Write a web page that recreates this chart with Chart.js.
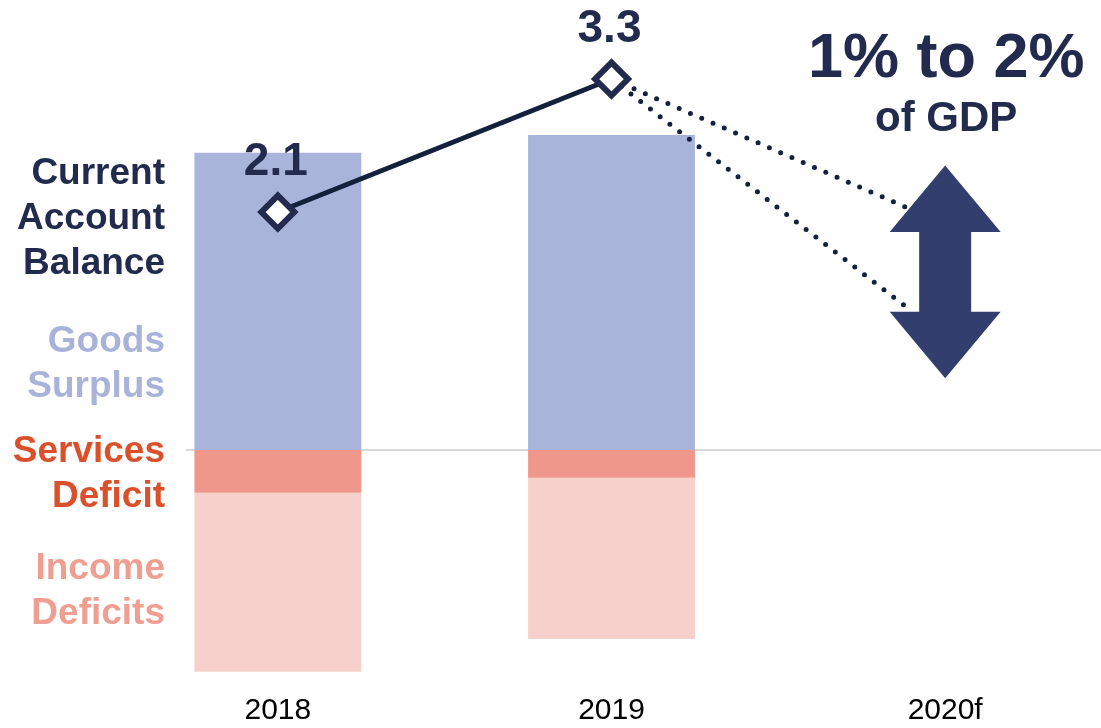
<!DOCTYPE html>
<html><head><meta charset="utf-8">
<script src="https://cdn.jsdelivr.net/npm/chart.js@4/dist/chart.umd.min.js"></script>
<style>
html,body{margin:0;padding:0;overflow:hidden;background:#fff;width:1101px;height:728px}
#wrap{position:absolute;left:0;top:0;width:1112px;height:728px}
</style></head>
<body><div id="wrap"><canvas id="c" width="1112" height="728"></canvas></div>
<script>
// ---- data ----
const categories = ['2018', '2019', '2020f'];
const goodsSurplus = [118, 125, null];        // RM bn
const servicesDeficit = [-17, -11, null];     // RM bn
const incomeDeficits = [-71, -64, null];      // RM bn
const currentAccountPct = [2.1, 3.3, null];   // % of GDP
const forecastX = [1, 1.885];                 // category index (2019 -> towards 2020f)
const forecastUpper = [3.3, 2.14];            // % of GDP
const forecastLower = [3.3, 1.24];            // % of GDP
const arrowTips = [0.6, 2.52];                // % of GDP (bottom tip, top tip)
const arrowHeads = [1.2, 1.92];               // % of GDP (head bases)
const forecastText = ['1% to 2%', 'of GDP'];

const FONT = "'Liberation Sans', Arial, Helvetica, sans-serif";
const NAVY = '#222b4e';
const CA_INDEX = 3;

const sideLabels = [
  {lines: ['Current', 'Account', 'Balance'], color: NAVY, base: 184},
  {lines: ['Goods', 'Surplus'], color: '#a9b3da', base: 352},
  {lines: ['Services', 'Deficit'], color: '#d9502b', base: 462},
  {lines: ['Income', 'Deficits'], color: '#ef9f92', base: 579}
];

const annot = {
  id: 'annot',
  beforeDatasetsDraw(chart) {
    const {ctx, chartArea, scales} = chart;
    const y0 = scales.y.getPixelForValue(0);
    ctx.save();
    ctx.strokeStyle = '#d9d9d9';
    ctx.lineWidth = 2;
    ctx.beginPath();
    ctx.moveTo(chartArea.left, y0);
    ctx.lineTo(chartArea.right, y0);
    ctx.stroke();
    ctx.restore();
  },
  afterDatasetsDraw(chart) {
    const {ctx, scales} = chart;
    const {x, y2} = scales;
    ctx.save();
    // white box behind side labels
    ctx.fillStyle = '#fefefe';
    ctx.fillRect(0, 425, 186, 100);
    // side labels
    ctx.textAlign = 'right';
    ctx.textBaseline = 'alphabetic';
    ctx.font = 'bold 37px ' + FONT;
    sideLabels.forEach(g => {
      ctx.fillStyle = g.color;
      g.lines.forEach((t, i) => ctx.fillText(t, 165, g.base + i * 45));
    });
    // point labels
    const meta = chart.getDatasetMeta(CA_INDEX);
    ctx.textAlign = 'center';
    ctx.fillStyle = NAVY;
    ctx.font = 'bold 46px ' + FONT;
    meta.data.forEach((p, i) => {
      const v = currentAccountPct[i];
      if (v == null) return;
      ctx.fillText(v.toFixed(1), p.x - 2, p.y - 37);
    });
    // arrow
    const cx = x.getPixelForValue(2);
    const top = y2.getPixelForValue(arrowTips[1]);
    const bot = y2.getPixelForValue(arrowTips[0]);
    const hT = y2.getPixelForValue(arrowHeads[1]);
    const hB = y2.getPixelForValue(arrowHeads[0]);
    const hw = 55.5, sw = 26;
    ctx.fillStyle = '#323e6e';
    ctx.beginPath();
    ctx.moveTo(cx, top);
    ctx.lineTo(cx + hw, hT);
    ctx.lineTo(cx + sw, hT);
    ctx.lineTo(cx + sw, hB);
    ctx.lineTo(cx + hw, hB);
    ctx.lineTo(cx, bot);
    ctx.lineTo(cx - hw, hB);
    ctx.lineTo(cx - sw, hB);
    ctx.lineTo(cx - sw, hT);
    ctx.lineTo(cx - hw, hT);
    ctx.closePath();
    ctx.fill();
    // forecast text
    ctx.fillStyle = NAVY;
    ctx.font = 'bold 63px ' + FONT;
    ctx.fillText(forecastText[0], cx + 1, 77);
    ctx.font = 'bold 42px ' + FONT;
    ctx.fillText(forecastText[1], cx + 1, 131);
    ctx.restore();
  }
};

new Chart(document.getElementById('c'), {
  type: 'bar',
  data: {
    labels: categories,
    datasets: [
      {label: 'Goods Surplus', data: goodsSurplus, backgroundColor: '#a9b4da', order: 2},
      {label: 'Services Deficit', data: servicesDeficit, backgroundColor: '#ee978a', order: 2},
      {label: 'Income Deficits', data: incomeDeficits, backgroundColor: '#f7d0cb', order: 2},
      {
        type: 'line', label: 'Current Account Balance', data: currentAccountPct,
        yAxisID: 'y2', borderColor: '#13213d', borderWidth: 5,
        pointStyle: 'rectRot', pointRadius: 16.5, pointBorderWidth: 6,
        pointBackgroundColor: '#ffffff', pointBorderColor: NAVY, order: 0
      },
      {
        type: 'line', label: 'Forecast upper',
        data: forecastX.map((v, i) => ({x: v, y: forecastUpper[i]})),
        xAxisID: 'x2', yAxisID: 'y2', borderColor: '#13213d', borderWidth: 5,
        borderDash: [0, 12.3], borderCapStyle: 'round', pointRadius: 0, order: 1
      },
      {
        type: 'line', label: 'Forecast lower',
        data: forecastX.map((v, i) => ({x: v, y: forecastLower[i]})),
        xAxisID: 'x2', yAxisID: 'y2', borderColor: '#13213d', borderWidth: 5,
        borderDash: [0, 12.3], borderCapStyle: 'round', pointRadius: 0, order: 1
      }
    ]
  },
  options: {
    responsive: false,
    animation: false,
    devicePixelRatio: 1,
    layout: {autoPadding: false, padding: {left: 111, right: 0, top: 0, bottom: 0}},
    datasets: {bar: {barPercentage: 0.5, categoryPercentage: 1, grouped: false}},
    plugins: {legend: {display: false}, tooltip: {enabled: false}},
    scales: {
      x: {
        stacked: true,
        grid: {display: false, drawTicks: false},
        border: {display: false},
        ticks: {color: '#000000', padding: 0, font: {family: FONT, size: 30, lineHeight: 34 / 30}}
      },
      x2: {type: 'linear', display: false, offset: false, min: -0.5, max: 2.5},
      y: {stacked: true, display: false, min: -96.83, max: 178.57},
      y2: {display: false, position: 'right', min: -2.249, max: 4.013}
    }
  },
  plugins: [annot]
});
</script>
</body></html>
